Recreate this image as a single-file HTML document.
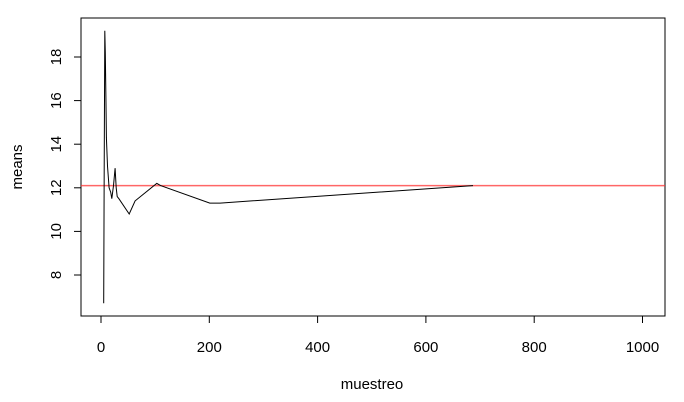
<!DOCTYPE html>
<html><head><meta charset="utf-8"><style>
html,body{margin:0;padding:0;background:#fff;}
svg{display:block;font-family:"Liberation Sans",Arial,sans-serif;}
</style></head><body>
<svg id="chart" width="684" height="402" viewBox="0 0 684 402">
<rect x="81" y="18" width="584" height="298" fill="none" stroke="#000" stroke-width="1"/>
<g id="xaxis"></g>
<g id="yaxis"></g>
<line id="ref" stroke="#ff3333" stroke-opacity="0.75" stroke-width="1.4"/>
<path id="series" fill="none" stroke="#000" stroke-width="1"/>
<text x="372" y="389" font-size="15" text-anchor="middle">muestreo</text>
<text x="0" y="0" font-size="15" text-anchor="middle" transform="translate(22,167) rotate(-90)">means</text>
</svg>
<script>
const sampleSizes=[5,6,7,8,9,10,12,15,18,20,23,26,28,30,33,52,63,103,110,201,220,687];
const meanValues=[6.7,12.9,19.2,18.2,16.2,14.3,13.0,12.0,11.8,11.5,12.1,12.9,12.0,11.6,11.5,10.8,11.4,12.2,12.1,11.3,11.3,12.1];
const refValue=12.1;
const xTicks=[0,200,400,600,800,1000];
const yTicks=[8,10,12,14,16,18];
const NS="http://www.w3.org/2000/svg";
const xs=v=>101+v*(642.5-101)/1000;
const ys=v=>275-(v-8)*(275-57)/10;
function mk(t,a,p){const e=document.createElementNS(NS,t);for(const k in a)e.setAttribute(k,a[k]);p.appendChild(e);return e;}
const xa=document.getElementById('xaxis'),ya=document.getElementById('yaxis');
mk('line',{x1:xs(0),x2:xs(1000),y1:316,y2:316,stroke:'#000'},xa);
xTicks.forEach(t=>{
 const l=mk('line',{x1:xs(t),x2:xs(t),y1:316,y2:323,stroke:'#000'},xa);
 
 
 const tx=mk('text',{x:xs(t),y:352,'font-size':15,'text-anchor':'middle'},xa);tx.textContent=t;
 
 
});
mk('line',{x1:81,x2:81,y1:ys(8),y2:ys(18),stroke:'#000'},ya);
yTicks.forEach(t=>{
 const l=mk('line',{x1:74,x2:81,y1:ys(t),y2:ys(t),stroke:'#000'},ya);
 
 
 const tx=mk('text',{x:0,y:0,'font-size':15,'text-anchor':'middle',transform:`translate(61,${ys(t)}) rotate(-90)`},ya);tx.textContent=t;
 
 
});
const r=document.getElementById('ref');
r.setAttribute('x1',81);r.setAttribute('x2',665);r.setAttribute('y1',ys(refValue));r.setAttribute('y2',ys(refValue));
document.getElementById('series').setAttribute('d',sampleSizes.map((n,i)=>(i?'L':'M')+xs(n).toFixed(1)+','+ys(meanValues[i]).toFixed(1)).join(''));
</script>
</body></html>
